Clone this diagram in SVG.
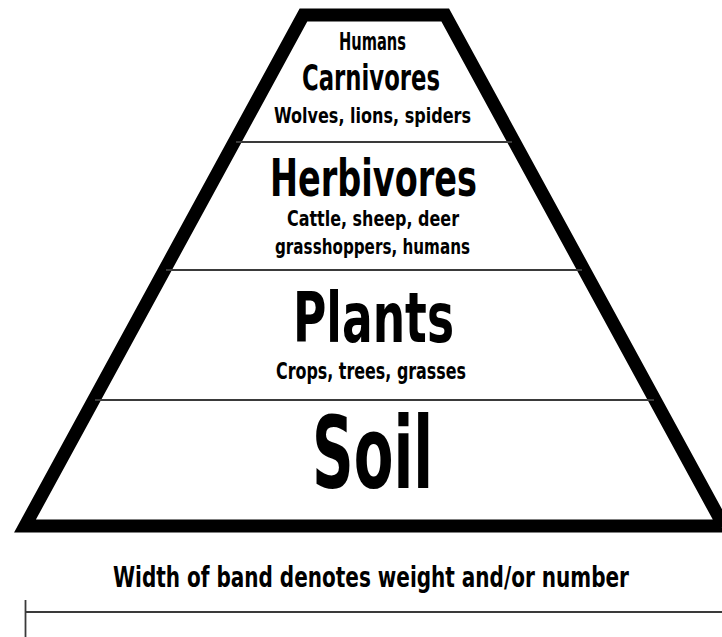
<svg xmlns="http://www.w3.org/2000/svg" width="722" height="637" viewBox="0 0 722 637">
  <style>
    .t { font-family: "Liberation Sans Narrow", "DejaVu Sans Condensed", "Liberation Sans", sans-serif; font-weight: bold; font-stretch: condensed; fill: #000; text-anchor: middle; }
    .sep { stroke: #3a3a3a; stroke-width: 1.8; fill: none; }
    .frame { fill: #fff; stroke: #000; stroke-width: 13; stroke-linejoin: miter; }
  </style>
  <rect width="722" height="637" fill="#fff"/>
  <g id="pyramid">
    <polygon class="frame" points="303.5,15 445.2,15 723.7,526 25,526"/>
  </g>
  <g id="connectors">
    <line class="sep" x1="236" y1="142" x2="512" y2="142"/>
    <line class="sep" x1="166" y1="270" x2="582" y2="270"/>
    <line class="sep" x1="95" y1="400" x2="654" y2="400"/>
  </g>
  <g id="carnivores">
    <text class="t" x="372.5" y="49.5" font-size="24" textLength="67" lengthAdjust="spacingAndGlyphs">Humans</text>
    <text class="t" x="371" y="90" font-size="35" textLength="138" lengthAdjust="spacingAndGlyphs">Carnivores</text>
    <text class="t" x="372.5" y="123" font-size="21" textLength="197" lengthAdjust="spacingAndGlyphs">Wolves, lions, spiders</text>
  </g>
  <g id="herbivores">
    <text class="t" x="373.5" y="196" font-size="51" textLength="207" lengthAdjust="spacingAndGlyphs">Herbivores</text>
    <text class="t" x="373" y="226" font-size="22" textLength="172" lengthAdjust="spacingAndGlyphs">Cattle, sheep, deer</text>
    <text class="t" x="372.5" y="254" font-size="22" textLength="195" lengthAdjust="spacingAndGlyphs">grasshoppers, humans</text>
  </g>
  <g id="plants">
    <text class="t" x="373.5" y="342" font-size="70" textLength="161" lengthAdjust="spacingAndGlyphs">Plants</text>
    <text class="t" x="371" y="379" font-size="23" textLength="190" lengthAdjust="spacingAndGlyphs">Crops, trees, grasses</text>
  </g>
  <g id="soil">
    <text class="t" x="372.5" y="488" font-size="100" textLength="121" lengthAdjust="spacingAndGlyphs">Soil</text>
  </g>
  <g id="legend">
    <text class="t" x="371" y="587" font-size="28" textLength="516" lengthAdjust="spacingAndGlyphs">Width of band denotes weight and/or number</text>
    <line class="sep" x1="25" y1="612" x2="722" y2="612"/>
    <line class="sep" x1="25.5" y1="600" x2="25.5" y2="637"/>
  </g>
</svg>
